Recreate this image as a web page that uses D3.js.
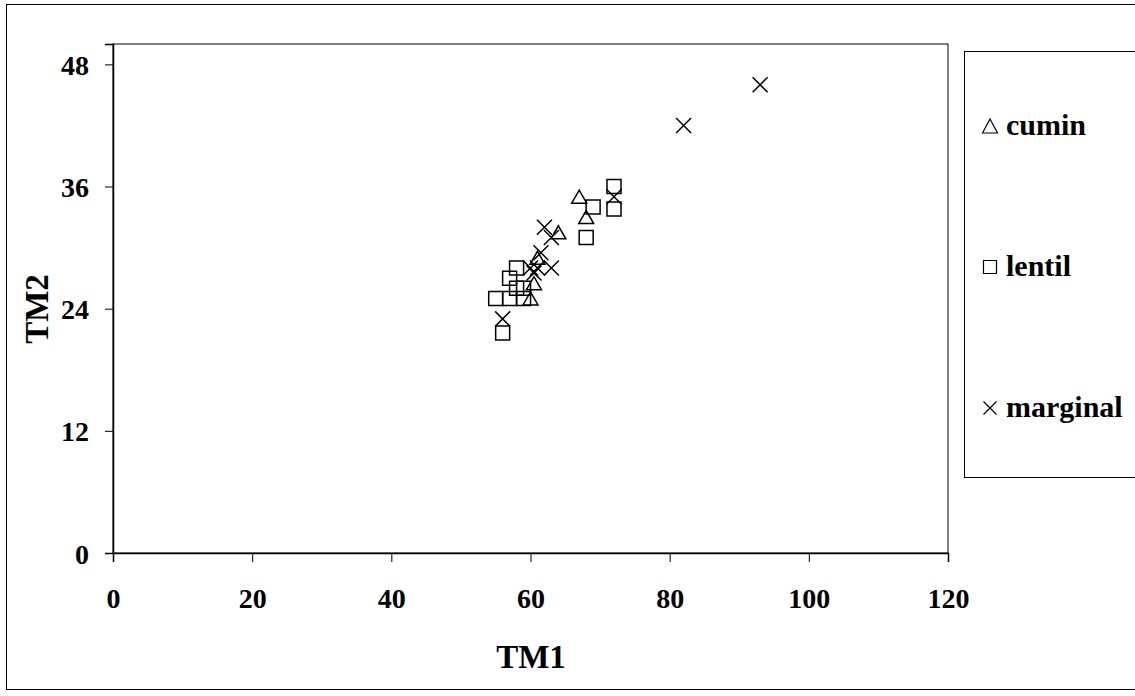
<!DOCTYPE html>
<html><head><meta charset="utf-8">
<script src="https://cdn.jsdelivr.net/npm/d3@7/dist/d3.min.js"></script>
<style>body{margin:0;background:#fff}svg{display:block}</style>
</head><body>
<script>
const xTicks = [0, 20, 40, 60, 80, 100, 120];
const yTicks = [0, 12, 24, 36, 48];
const seriesNames = ["cumin", "lentil", "marginal"];
const cumin = [[67,35],[68,33],[60,25],[60.5,26.5],[64,31.5],[61,29]];
const lentil = [[72,36],[69,34],[68,31],[72,33.8],[58,28],[57,27],[58,26],[59,26],[55,25],[57,25],[59,25],[56,21.6]];
const marginal = [[93,46],[82,42],[72,35],[62,32],[63,31],[63,28],[56,23],[60,28],[61,28],[61.5,29.5],[60.5,27.5]];

const W = 1135, H = 696;
const svg = d3.select("body").append("svg").attr("width", W).attr("height", H);
const font = "'Liberation Serif','Times New Roman',serif";

svg.append("rect").attr("x",6.5).attr("y",4.5).attr("width",1140).attr("height",685)
  .attr("fill","none").attr("stroke","#000").attr("stroke-width",1);

const x = d3.scaleLinear().domain([0,120]).range([113,948]);
const y = d3.scaleLinear().domain([0,50]).range([553,44]);

// plot area border
svg.append("rect").attr("x",113).attr("y",44).attr("width",835).attr("height",509)
  .attr("fill","none").attr("stroke","#000").attr("stroke-width",1);

const xAxis = svg.append("g").attr("transform","translate(0,553)")
  .call(d3.axisBottom(x).tickValues(xTicks).tickSize(9).tickPadding(26).tickFormat(d3.format("d")));
const yAxis = svg.append("g").attr("transform","translate(113,0)")
  .call(d3.axisLeft(y).tickValues(yTicks).tickSize(8).tickPadding(16).tickFormat(d3.format("d")));
[xAxis,yAxis].forEach(g=>{
  g.select(".domain").attr("stroke","#000").attr("stroke-width",1.5);
  g.selectAll(".tick line").attr("stroke","#000").attr("stroke-width",1);
  g.selectAll("text").attr("font-family",font).attr("font-weight","bold")
    .attr("font-size",28).attr("fill","#000");
});
yAxis.selectAll("text").attr("dy","0.36em");

svg.append("text").attr("x",531).attr("y",668).attr("text-anchor","middle")
  .attr("font-family",font).attr("font-weight","bold").attr("font-size",33).text("TM1");
svg.append("text").attr("transform","translate(48,309) rotate(-90)").attr("text-anchor","middle")
  .attr("font-family",font).attr("font-weight","bold").attr("font-size",33).text("TM2");

function triPath(cx,cy,w,h){return `M${cx-w/2},${cy+h/2}L${cx},${cy-h/2}L${cx+w/2},${cy+h/2}Z`;}
function sqPath(cx,cy,s){return `M${cx-s/2},${cy-s/2}h${s}v${s}h${-s}Z`;}
function xPath(cx,cy,s){return `M${cx-s/2},${cy-s/2}L${cx+s/2},${cy+s/2}M${cx+s/2},${cy-s/2}L${cx-s/2},${cy+s/2}`;}

const g = svg.append("g").attr("fill","none").attr("stroke","#000").attr("stroke-width",1.5);
g.selectAll(".c").data(cumin).enter().append("path").attr("d",d=>triPath(x(d[0]),y(d[1]),15,13));
g.selectAll(".l").data(lentil).enter().append("path").attr("d",d=>sqPath(x(d[0]),y(d[1]),14));
g.selectAll(".m").data(marginal).enter().append("path").attr("d",d=>xPath(x(d[0]),y(d[1]),15));

// legend
svg.append("rect").attr("x",964.5).attr("y",51.5).attr("width",200).attr("height",426)
  .attr("fill","none").attr("stroke","#000").attr("stroke-width",1);
const legY = [126, 267, 408];
const lg = svg.append("g");
seriesNames.forEach((n,i)=>{
  const cy = legY[i];
  const p = lg.append("path").attr("fill","none").attr("stroke","#000").attr("stroke-width",1.2);
  if(i===0) p.attr("d",triPath(990,cy,15,14));
  else if(i===1) p.attr("d",sqPath(990,cy,13));
  else p.attr("d",xPath(990,cy,13));
  lg.append("text").attr("x",1006).attr("y",cy+9).attr("font-family",font).attr("font-weight","bold")
    .attr("font-size",30).text(n);
});
</script>
</body></html>
